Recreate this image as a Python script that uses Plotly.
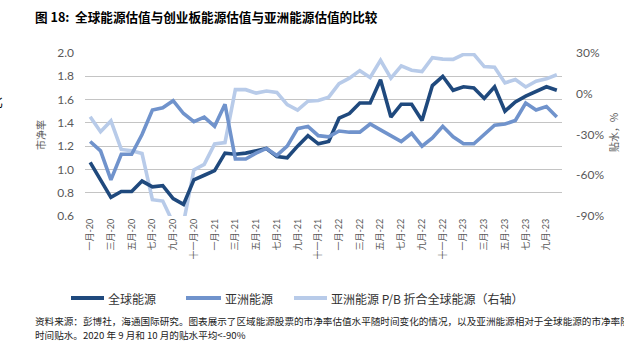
import plotly.graph_objects as go

# ---- data -------------------------------------------------------------
MONTH_NAMES = ["一月", "二月", "三月", "四月", "五月", "六月",
               "七月", "八月", "九月", "十月", "十一月", "十二月"]
YEARS = ["20", "21", "22", "23"]
# monthly observations, Jan-2020 .. Oct-2023
months = [f"{m}-{y}" for y in YEARS for m in MONTH_NAMES][:46]
tick_labels = months[0:45:2]

# price-to-book, global energy
global_pb = [1.06, 0.91, 0.76, 0.81, 0.81, 0.90, 0.85, 0.86, 0.75, 0.70,
             0.91, 0.95, 0.99, 1.14, 1.13, 1.14, 1.16, 1.18, 1.11, 1.10,
             1.20, 1.29, 1.22, 1.24, 1.44, 1.48, 1.57, 1.57, 1.77, 1.45,
             1.56, 1.56, 1.42, 1.72, 1.80, 1.68, 1.71, 1.70, 1.61, 1.71,
             1.50, 1.58, 1.63, 1.67, 1.71, 1.68]
# price-to-book, Asia energy
asia_pb = [1.24, 1.16, 0.91, 1.13, 1.13, 1.30, 1.51, 1.53, 1.59, 1.48,
           1.41, 1.45, 1.37, 1.56, 1.09, 1.09, 1.14, 1.18, 1.12, 1.20,
           1.35, 1.37, 1.29, 1.28, 1.33, 1.32, 1.32, 1.39, 1.34, 1.29,
           1.24, 1.31, 1.20, 1.27, 1.37, 1.28, 1.22, 1.22, 1.30, 1.38,
           1.39, 1.42, 1.57, 1.51, 1.54, 1.45]
# discount of Asia P/B vs global P/B, % (Sep/Oct 2020 below -90%)
asia_discount = [-17, -28, -20, -41, -42, -44, -78, -79, -95, -95,
                 -56, -52, -37, -36, 3, 3, 0.5, 2, 1, -8,
                 -12, -5.5, -5, -2.5, 7.5, 11.5, 17, 12, 24.6, 11.5,
                 20.5, 17.3, 16.3, 26.5, 25.5, 25.3, 29, 29, 20, 19.5,
                 8, 10.5, 5, 9.2, 11, 14]

discount_ticks = [-90, -60, -30, 0, 30]
discount_tick_text = ["-90%", "-60%", "-30%", "0%", "30%"]

series_names = ["全球能源", "亚洲能源", "亚洲能源 P/B 折合全球能源（右轴）"]
colors = ["#1F497D", "#7093CC", "#B8CBE9"]

# ---- geometry ---------------------------------------------------------
W, H = 624, 347
L, R, T, B = 85, 562, 53, 216
CJK = "Noto Sans CJK SC"
NUM = "Lato, Noto Sans CJK SC"
GREY = "#595959"


def px(x):
    return (x - L) / (R - L)


def py(y):
    return (B - y) / (B - T)


fig = go.Figure()

# discount line sits on the primary axis (right side) so it is drawn underneath
fig.add_trace(go.Scatter(x=months, y=asia_discount, mode="lines", name=series_names[2],
                         line=dict(color=colors[2], width=3.6), yaxis="y"))
fig.add_trace(go.Scatter(x=months, y=global_pb, mode="lines", name=series_names[0],
                         line=dict(color=colors[0], width=3.6), yaxis="y2"))
fig.add_trace(go.Scatter(x=months, y=asia_pb, mode="lines", name=series_names[1],
                         line=dict(color=colors[1], width=3.6), yaxis="y2"))

fig.update_layout(
    width=W, height=H,
    margin=dict(l=L, r=W - R, t=T, b=H - B),
    paper_bgcolor="white", plot_bgcolor="white",
    showlegend=False,
    xaxis=dict(
        type="category", range=[-0.5, 45.5],
        tickmode="array", tickvals=tick_labels, ticktext=tick_labels,
        tickangle=-90, tickfont=dict(family=NUM, size=9, color=GREY),
        showgrid=False, zeroline=False, showline=False, ticks="",
    ),
    yaxis=dict(
        side="right", range=[-90, 30],
        tickmode="array", tickvals=discount_ticks, ticktext=discount_tick_text,
        tickfont=dict(family=NUM, size=12, color=GREY),
        showgrid=False, zeroline=False, showline=False, ticks="",
        ticklabelstandoff=13,
    ),
    yaxis2=dict(
        overlaying="y", side="left", range=[0.6, 2.0], dtick=0.2, tick0=0.6,
        tickformat=".1f", tickfont=dict(family=NUM, size=12, color=GREY),
        showgrid=True, gridcolor="#C4C4C4", gridwidth=1.4,
        zeroline=False, showline=False, ticks="", ticklabelstandoff=10,
    ),
)

annotations = [
    dict(x=px(33), y=py(17), xanchor="left", yanchor="middle",
         text="<b>图 18:  全球能源估值与创业板能源估值与亚洲能源估值的比较</b>",
         font=dict(family=CJK, size=12.6, color="#000000")),
    dict(x=px(5), y=py(100), xanchor="right", yanchor="middle", text="比",
         font=dict(family=CJK, size=13, color="#000000")),
    dict(x=px(40), y=py(135), xanchor="center", yanchor="middle", text="市净率",
         textangle=-90, font=dict(family=CJK, size=10, color=GREY)),
    dict(x=px(613), y=py(133), xanchor="center", yanchor="middle", text="贴水，%",
         textangle=-90, font=dict(family=CJK, size=10, color=GREY)),
    dict(x=px(33), y=py(321), xanchor="left", yanchor="middle",
         text="资料来源：彭博社，海通国际研究。图表展示了区域能源股票的市净率估值水平随时间变化的情况，以及亚洲能源相对于全球能源的市净率随",
         font=dict(family=CJK, size=9.6, color="#222222")),
    dict(x=px(33), y=py(334.5), xanchor="left", yanchor="middle",
         text="时间贴水。2020 年 9 月和 10 月的贴水平均<-90%",
         font=dict(family=CJK, size=9.6, color="#222222")),
]

# legend drawn as swatch + label pairs
legend_pos = [(71, 104), (186, 221), (294, 327)]
shapes = []
for (x0, x1), name, col in zip(legend_pos, series_names, colors):
    shapes.append(dict(type="line", xref="paper", yref="paper",
                       x0=px(x0), x1=px(x1), y0=py(298), y1=py(298),
                       line=dict(color=col, width=4)))
    annotations.append(dict(x=px(x1 + 2), y=py(298), xanchor="left", yanchor="middle",
                            text=name, font=dict(family=CJK, size=12, color="#333333")))

for a in annotations:
    a.update(xref="paper", yref="paper", showarrow=False)

fig.update_layout(annotations=annotations, shapes=shapes)

fig.write_html("out.html")
